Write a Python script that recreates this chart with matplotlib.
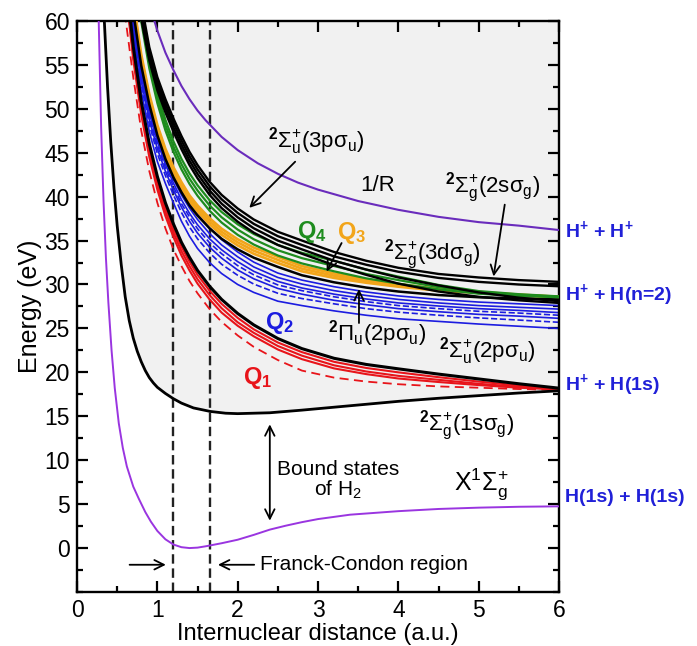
import matplotlib
matplotlib.use("Agg")
import matplotlib.pyplot as plt
from matplotlib.ticker import MultipleLocator

plt.rcParams["font.family"] = ["Liberation Sans", "DejaVu Sans"]
plt.rcParams["mathtext.fontset"] = "custom"
plt.rcParams["mathtext.rm"] = "Liberation Sans"
plt.rcParams["mathtext.it"] = "Liberation Sans"
plt.rcParams["mathtext.bf"] = "Liberation Sans:bold"

# ground state X 1Sigma_g+ of H2
R_X = [0.25, 0.27, 0.30, 0.33, 0.36, 0.39, 0.43, 0.47, 0.52, 0.57, 0.62, 0.70, 0.77, 0.85,
       0.92, 1.0, 1.1, 1.2, 1.3, 1.4, 1.5, 1.6, 1.8, 2.0, 2.2, 2.4, 2.6, 2.8, 3.0, 3.4,
       4.0, 4.5, 5.0, 5.5, 6.0]
E_X = [68, 60, 48, 39.5, 33, 28, 22.5, 18.2, 14.2, 11.4, 9.3, 7.0, 5.6, 4.1,
       3.0, 1.95, 1.0, 0.4, 0.1, 0.0, 0.05, 0.2, 0.55, 0.95, 1.5, 2.1, 2.55, 2.95, 3.3, 3.8,
       4.2, 4.45, 4.6, 4.7, 4.75]

# H2+ ground state 1s sigma_g
R_ION = [0.32, 0.34, 0.38, 0.42, 0.46, 0.50, 0.55, 0.60, 0.65, 0.70, 0.75, 0.80, 0.85, 0.90,
         0.95, 1.0, 1.1, 1.2, 1.3, 1.45, 1.66, 1.85, 2.0, 2.4, 2.8, 3.4, 4.0, 4.5, 5.0, 5.5, 6.0]
E_ION = [64, 60, 52.5, 46.2, 41.0, 36.7, 32.3, 28.6, 25.9, 23.9, 22.4, 21.2, 20.2, 19.4,
         18.8, 18.3, 17.6, 17.0, 16.5, 15.95, 15.55, 15.35, 15.3, 15.4, 15.7, 16.2, 16.7, 17.05,
         17.35, 17.65, 17.9]

# Coulomb 1/R (H+ + H+)
R_COUL = [0.9, 1.0, 1.1, 1.2, 1.3, 1.4, 1.5, 1.6, 1.8, 2.0, 2.25, 2.5, 2.75, 3.0, 3.5,
          4.0, 4.5, 5.0, 5.5, 6.0]
E_COUL = [61.9, 58.9, 56.4, 54.4, 52.6, 51.1, 49.8, 48.7, 46.8, 45.3, 43.8, 42.6, 41.6, 40.8, 39.5,
          38.5, 37.7, 37.1, 36.7, 36.2]

# excited H2+ states and doubly excited Q states, common R grid
R_UP = [0.5, 0.6, 0.7, 0.8, 0.9, 1.0, 1.1, 1.2, 1.3, 1.4, 1.5, 1.65, 1.8, 2.0, 2.2, 2.5,
        2.8, 3.2, 3.6, 4.0, 4.5, 5.0, 5.5, 6.0]

E_2PSU = [78.2, 65.7, 57.1, 50.8, 46.0, 42.3, 39.3, 36.9, 34.8, 33.1, 31.6, 29.8, 28.3, 26.7,
          25.4, 23.85, 22.7, 21.6, 20.9, 20.4, 19.8, 19.25, 18.7, 18.2]
E_Q1_A = [77.6, 65.1, 56.6, 50.3, 45.5, 41.8, 38.8, 36.4, 34.3, 32.6, 31.1, 29.3, 27.8, 26.2,
          24.9, 23.4, 22.3, 21.2, 20.5, 20.0, 19.45, 18.95, 18.5, 18.15]
E_Q1_B = [77.0, 64.5, 56.1, 49.8, 45.0, 41.3, 38.3, 35.9, 33.8, 32.1, 30.6, 28.8, 27.3, 25.7,
          24.5, 23.0, 21.9, 20.8, 20.1, 19.6, 19.15, 18.7, 18.35, 18.1]
E_Q1_C = [76.4, 63.9, 55.6, 49.3, 44.5, 40.8, 37.8, 35.4, 33.3, 31.6, 30.1, 28.3, 26.8, 25.3,
          24.1, 22.6, 21.5, 20.45, 19.8, 19.3, 18.9, 18.55, 18.25, 18.05]
E_Q1_DASH = [72.0, 60.5, 53.6, 47.5, 42.9, 39.3, 36.4, 34.0, 32.1, 30.4, 29.0, 27.2, 25.75, 24.2,
             22.9, 21.4, 20.2, 19.4, 18.95, 18.65, 18.4, 18.25, 18.1, 18.0]

E_Q2_A = [80, 70, 60.8, 54.5, 50.4, 47.2, 44.6, 42.5, 40.7, 39.25, 38.0, 36.4, 35.1, 33.7,
          32.55, 31.3, 30.5, 29.75, 29.15, 28.7, 28.3, 28.0, 27.8, 27.6]
E_Q2_B = [79.4, 69.85, 60.45, 54.1, 49.95, 46.7, 44.1, 42.0, 40.2, 38.7, 37.4, 35.8, 34.5, 33.15,
          32.0, 30.8, 30.05, 29.3, 28.75, 28.3, 27.9, 27.6, 27.4, 27.2]
E_Q2_C = [78.8, 69.7, 60.1, 53.75, 49.5, 46.25, 43.7, 41.55, 39.65, 38.1, 36.8, 35.2, 33.95, 32.6,
          31.5, 30.35, 29.6, 28.9, 28.35, 27.9, 27.55, 27.25, 27.05, 26.8]
E_Q2_D = [78.3, 69.6, 59.85, 53.45, 49.15, 45.85, 43.3, 41.15, 39.2, 37.7, 36.35, 34.75, 33.5,
          32.15, 31.1, 29.95, 29.3, 28.6, 28.05, 27.6, 27.25, 26.95, 26.75, 26.5]
E_Q2_E = [77.8, 69.45, 59.55, 53.1, 48.75, 45.45, 42.9, 40.75, 38.8, 37.2, 35.85, 34.25, 33.0,
          31.65, 30.65, 29.55, 28.9, 28.2, 27.7, 27.25, 26.9, 26.6, 26.4, 26.15]
E_Q2_F = [77.1, 69.3, 59.15, 52.7, 48.25, 44.9, 42.4, 40.2, 38.2, 36.55, 35.2, 33.6, 32.3, 31.05,
          30.05, 29.0, 28.4, 27.8, 27.25, 26.85, 26.5, 26.2, 25.95, 25.7]
E_Q2_G = [76, 69, 58.5, 52.0, 47.4, 44.0, 41.5, 39.3, 37.2, 35.5, 34.1, 32.5, 31.25, 30.0,
          29.1, 28.1, 27.6, 27.0, 26.5, 26.1, 25.8, 25.5, 25.25, 25.0]

E_Q3_A = [85, 71.4, 62.4, 56.15, 51.65, 48.15, 45.45, 43.35, 41.65, 40.15, 39.0, 37.55, 36.35,
          35.15, 34.2, 33.15, 32.1, 31.25, 30.6, 30.05, 29.5, 29.15, 28.85, 28.6]
E_Q3_B = [84.6, 71.0, 62.05, 55.8, 51.3, 47.8, 45.1, 43.0, 41.3, 39.8, 38.65, 37.2, 36.0, 34.8,
          33.85, 32.8, 31.8, 31.0, 30.4, 29.9, 29.4, 29.1, 28.8, 28.6]
E_Q3_C = [84.2, 70.6, 61.7, 55.45, 50.95, 47.45, 44.75, 42.65, 40.95, 39.45, 38.3, 36.85, 35.65,
          34.45, 33.5, 32.45, 31.5, 30.75, 30.2, 29.75, 29.3, 29.05, 28.75, 28.55]
E_2PPU = [83.5, 69.9, 61.1, 54.9, 50.5, 47.0, 44.3, 42.2, 40.5, 39.0, 37.85, 36.4, 35.2, 34.0,
          33.05, 32.0, 31.05, 30.25, 29.65, 29.2, 28.8, 28.55, 28.4, 28.3]

E_Q4_A = [94.3, 78.6, 68.25, 61.1, 55.8, 51.85, 48.75, 46.3, 44.3, 42.65, 41.3, 39.6, 38.25,
          36.85, 35.75, 34.5, 33.6, 32.7, 31.7, 30.9, 29.95, 29.25, 28.9, 28.65]
E_Q4_B = [93.7, 78.0, 67.65, 60.5, 55.2, 51.25, 48.15, 45.7, 43.7, 42.05, 40.7, 39.0, 37.65,
          36.25, 35.15, 33.9, 33.0, 32.1, 31.2, 30.5, 29.7, 29.1, 28.8, 28.6]
E_Q4_C = [93.1, 77.4, 67.05, 59.9, 54.6, 50.65, 47.55, 45.1, 43.1, 41.45, 40.1, 38.4, 37.05,
          35.65, 34.55, 33.3, 32.4, 31.5, 30.7, 30.1, 29.45, 28.95, 28.7, 28.55]

E_2SSG = [95, 80, 70, 62.0, 57.0, 53.6, 51.1, 48.9, 46.9, 45.1, 43.6, 41.7, 40.2, 38.65,
          37.4, 36.0, 35.0, 33.7, 32.7, 31.9, 31.2, 30.8, 30.5, 30.3]
E_UPPER_B = [94, 79, 69.3, 61.4, 56.5, 53.1, 50.6, 48.4, 46.4, 44.6, 43.1, 41.2, 39.7, 38.15,
             36.9, 35.5, 34.5, 33.2, 32.25, 31.45, 30.75, 30.3, 30.0, 29.8]
E_3PSU = [93, 78, 68.6, 60.8, 56.0, 52.6, 50.1, 47.9, 45.9, 44.1, 42.6, 40.7, 39.2, 37.65,
          36.4, 35.0, 34.0, 32.7, 31.7, 30.8, 29.9, 29.1, 28.5, 28.1]
E_3DSG = [92, 77, 67.9, 60.2, 55.5, 52.1, 49.6, 47.4, 45.4, 43.6, 42.1, 40.2, 38.7, 37.15,
          35.9, 34.5, 33.5, 32.2, 31.1, 30.1, 29.2, 28.6, 28.2, 27.9]

FC_LIMITS = [1.195, 1.66]

RED = "#e8141a"
BLUE = "#1c1ce0"
GREEN = "#1e8c1e"
ORANGE = "#f2a51a"
LABEL_BLUE = "#2020d8"

fig = plt.figure(figsize=(6.97, 6.46), dpi=100)
ax = fig.add_axes([0.1105, 0.0836, 0.6915, 0.884])

ax.fill_between(R_ION, E_ION, 60, color="#f1f1f1", zorder=0, lw=0)

for r in FC_LIMITS:
    ax.axvline(r, color="#222222", lw=1.7, ls=(0, (4.0, 2.0)), zorder=1)

# Q2 (blue)
for e, ls in [(E_Q2_G, "-"), (E_Q2_F, "--"), (E_Q2_E, "-"), (E_Q2_D, "--"),
              (E_Q2_C, "-"), (E_Q2_B, "-"), (E_Q2_A, "-")]:
    ax.plot(R_UP, e, color=BLUE, lw=1.2, ls=ls, zorder=2)

# Q1 (red)
ax.plot(R_UP, E_Q1_DASH, color=RED, lw=1.3, ls=(0, (5, 3)), zorder=2)
for e in [E_Q1_C, E_Q1_B, E_Q1_A]:
    ax.plot(R_UP, e, color=RED, lw=1.5, zorder=2)
ax.plot(R_UP, E_2PSU, color="black", lw=2.2, zorder=3)

# Q3 (orange) and 2pi_u
for e in [E_Q3_C, E_Q3_B, E_Q3_A]:
    ax.plot(R_UP, e, color=ORANGE, lw=1.9, zorder=3)
ax.plot(R_UP, E_2PPU, color="black", lw=1.8, zorder=3)

# Q4 (green)
for e in [E_Q4_C, E_Q4_B, E_Q4_A]:
    ax.plot(R_UP, e, color=GREEN, lw=1.6, zorder=3)

# upper black states
for e in [E_3DSG, E_3PSU, E_UPPER_B, E_2SSG]:
    ax.plot(R_UP, e, color="black", lw=1.7, zorder=4)

ax.plot(R_ION, E_ION, color="black", lw=2.0, zorder=4)
ax.plot(R_COUL, E_COUL, color="#6a2cbc", lw=1.5, zorder=4)
ax.plot(R_X, E_X, color="#9a35e0", lw=1.4, zorder=4)

ax.set_xlim(0, 6)
ax.set_ylim(-5, 60)
ax.xaxis.set_major_locator(MultipleLocator(1))
ax.xaxis.set_minor_locator(MultipleLocator(0.5))
ax.set_yticks(range(0, 61, 5))
ax.yaxis.set_minor_locator(MultipleLocator(2.5))
ax.tick_params(which="both", direction="in", top=True, right=True, width=1.6)
ax.tick_params(which="major", length=8, labelsize=16.5, pad=5)
ax.tick_params(which="minor", length=4)
for side in ax.spines.values():
    side.set_linewidth(1.7)
ax.set_xlabel("Internuclear distance (a.u.)", fontsize=17, labelpad=1)
ax.set_ylabel("Energy (eV)", fontsize=18, labelpad=2)

arrow = dict(arrowstyle="->", color="black", lw=1.3, mutation_scale=17)
ax.annotate("", xy=(2.12, 38.5), xytext=(2.74, 44.2), arrowprops=arrow, zorder=6)
ax.annotate("", xy=(5.18, 30.6), xytext=(5.33, 39.4), arrowprops=arrow, zorder=6)
ax.annotate("", xy=(3.09, 31.2), xytext=(3.31, 35.0), arrowprops=arrow, zorder=6)
ax.annotate("", xy=(3.51, 29.8), xytext=(3.51, 25.3), arrowprops=arrow, zorder=6)
ax.annotate("", xy=(2.40, 14.4), xytext=(2.40, 2.8),
            arrowprops=dict(arrowstyle="<->", color="black", lw=1.3, mutation_scale=17))
ax.annotate("", xy=(1.14, -1.9), xytext=(0.62, -1.9), arrowprops=arrow)
ax.annotate("", xy=(1.72, -1.9), xytext=(2.24, -1.9), arrowprops=arrow)

txt = dict(fontsize=16, ha="center", va="center", zorder=7)
ax.text(2.98, 46.3, r"$^{\mathbf{2}}\Sigma_{\mathrm{u}}^{+}(\mathrm{3p}\sigma_{\mathrm{u}})$", **txt)
ax.text(3.74, 41.3, "1/R", **txt)
ax.text(5.17, 41.0, r"$^{\mathbf{2}}\Sigma_{\mathrm{g}}^{+}(\mathrm{2s}\sigma_{\mathrm{g}})$", **txt)
ax.text(4.42, 33.4, r"$^{\mathbf{2}}\Sigma_{\mathrm{g}}^{+}(\mathrm{3d}\sigma_{\mathrm{g}})$", **txt)
ax.text(3.74, 24.4, r"$^{\mathbf{2}}\Pi_{\mathrm{u}}(\mathrm{2p}\sigma_{\mathrm{u}})$", **txt)
ax.text(5.10, 22.4, r"$^{\mathbf{2}}\Sigma_{\mathrm{u}}^{+}(\mathrm{2p}\sigma_{\mathrm{u}})$", **txt)
ax.text(4.85, 13.9, r"$^{\mathbf{2}}\Sigma_{\mathrm{g}}^{+}(\mathrm{1s}\sigma_{\mathrm{g}})$", **txt)
ax.text(3.25, 7.7, "Bound states\nof H$_2$", fontsize=15, ha="center", va="center",
        linespacing=1.0)
ax.text(5.03, 7.3, r"$\mathrm{X}^{1}\Sigma_{\mathrm{g}}^{+}$", fontsize=18, ha="center", va="center")
ax.text(2.28, -1.9, "Franck-Condon region", fontsize=15, ha="left", va="center")

qtxt = dict(fontsize=17, ha="center", va="center", zorder=7)
ax.text(2.92, 36.0, r"$\mathbf{Q_4}$", color=GREEN, **qtxt)
ax.text(3.42, 35.9, r"$\mathbf{Q_3}$", color=ORANGE, **qtxt)
ax.text(2.52, 25.6, r"$\mathbf{Q_2}$", color=BLUE, **qtxt)
ax.text(2.25, 19.4, r"$\mathbf{Q_1}$", color=RED, **qtxt)

limits = ax.get_yaxis_transform()
side_labels = [
    (36.2, r"H$^{\mathbf{+}}$ + H$^{\mathbf{+}}$"),
    (28.8, r"H$^{\mathbf{+}}$ + H(n=2)"),
    (18.6, r"H$^{\mathbf{+}}$ + H(1s)"),
    (5.7, "H(1s) + H(1s)"),
]
for y, label in side_labels:
    ax.text(1.012, y, label, transform=limits, color=LABEL_BLUE, fontsize=14,
            fontweight="bold", ha="left", va="center", clip_on=False)

fig.savefig("out.png", dpi=100)
